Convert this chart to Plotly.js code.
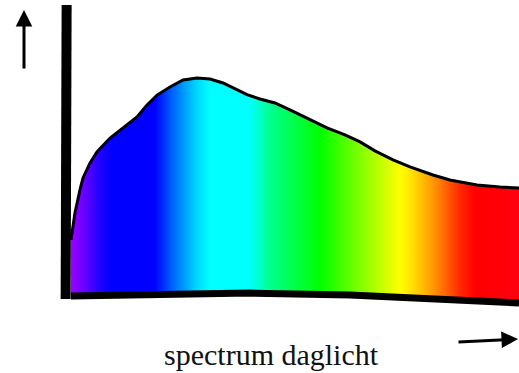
<!DOCTYPE html>
<html>
<head>
<meta charset="utf-8">
<script src="https://cdn.plot.ly/plotly-3.0.1.min.js"></script>
<style>html,body{margin:0;padding:0;background:#fff;}#chart{width:519px;height:373px;}</style>
</head>
<body>
<div id="chart"></div>
<script>
// Wavelength (nm) and relative intensity of the daylight curve
var wavelength = [380.8, 382.5, 384.1, 388.2, 390.7, 396.5, 402.2, 413.0, 423.7, 435.2, 443.5, 451.7, 462.4, 473.1, 484.7, 495.4, 506.1, 514.3, 525.9, 536.6, 548.9, 561.3, 577.8, 591.8, 606.6, 619.0, 631.3, 646.2, 660.2, 679.1, 693.1, 715.4, 734.3, 750.0];
var intensity  = [26.0, 32.9, 38.4, 48.9, 54.3, 61.2, 66.2, 72.6, 77.2, 82.2, 87.7, 92.2, 95.9, 99.1, 100.0, 99.5, 97.7, 95.4, 92.4, 90.4, 88.6, 85.4, 80.8, 77.2, 74.0, 70.8, 66.7, 62.6, 59.4, 55.7, 53.4, 51.1, 50.2, 49.8];

// Hand-drawn baseline (bottom axis)
var baseX = [380.8, 445.9, 528.3, 610.7, 693.1, 750.0];
var baseY = [0.5, 1.4, 1.8, 0.9, -0.9, -2.7];

// Spectrum colours
var spectrumStops  = [0, 0.036, 0.067, 0.094, 0.189, 0.227, 0.283, 0.312, 0.401, 0.445, 0.557, 0.624, 0.735, 0.762, 0.808, 0.869, 0.902, 1];
var spectrumColors = ['#a000ff', '#6000ff', '#2000ff', '#0000ff', '#0000ff', '#0060ff', '#00d8ff', '#00ffff', '#00ffff', '#00ff90', '#00ff00', '#60ff00', '#ffff00', '#ffe000', '#ff9900', '#ff2800', '#ff0000', '#ff0010'];

var xlabel = 'spectrum daglicht';

var colorscale = spectrumStops.map(function (s, i) { return [s, spectrumColors[i]]; });

var traces = [
  { x: baseX, y: baseY, type: 'scatter', mode: 'lines', line: { width: 0, color: 'rgba(0,0,0,0)' }, hoverinfo: 'skip', showlegend: false },
  { x: wavelength, y: intensity, type: 'scatter', mode: 'lines', fill: 'tonexty',
    fillgradient: { type: 'horizontal', colorscale: colorscale, start: 380, stop: 750 },
    line: { color: '#000', width: 3 }, showlegend: false },
  { x: baseX, y: baseY, type: 'scatter', mode: 'lines', line: { color: '#000', width: 7 }, showlegend: false }
];

var layout = {
  width: 519, height: 373,
  margin: { l: 0, r: 0, t: 0, b: 0 },
  paper_bgcolor: '#fff', plot_bgcolor: '#fff',
  font: { family: 'Liberation Serif' },
  xaxis: { range: [322.3, 750], visible: false, fixedrange: true },
  yaxis: { range: [-34.7, 135.6], visible: false, fixedrange: true },
  shapes: [
    { type: 'line', xref: 'x', yref: 'y', x0: 377.2, y0: 133.3, x1: 376.4, y1: -0.9, line: { color: '#000', width: 10 } }
  ],
  annotations: [
    { xref: 'paper', yref: 'paper', x: 271 / 519, y: 1 - 354 / 373, text: xlabel, showarrow: false,
      font: { family: 'Liberation Serif, serif', size: 30, color: '#111' }, xanchor: 'center', yanchor: 'middle' },
    { xref: 'paper', yref: 'paper', x: 24 / 519, y: 1 - 10 / 373, ax: 0, ay: 60, text: '', showarrow: true,
      arrowhead: 2, arrowsize: 1.1, arrowwidth: 3, arrowcolor: '#000' },
    { xref: 'paper', yref: 'paper', x: 518 / 519, y: 1 - 339 / 373, ax: -61, ay: 3, text: '', showarrow: true,
      arrowhead: 2, arrowsize: 1.1, arrowwidth: 3, arrowcolor: '#000' }
  ]
};

Plotly.newPlot('chart', traces, layout, { staticPlot: true, displayModeBar: false });
</script>
</body>
</html>
